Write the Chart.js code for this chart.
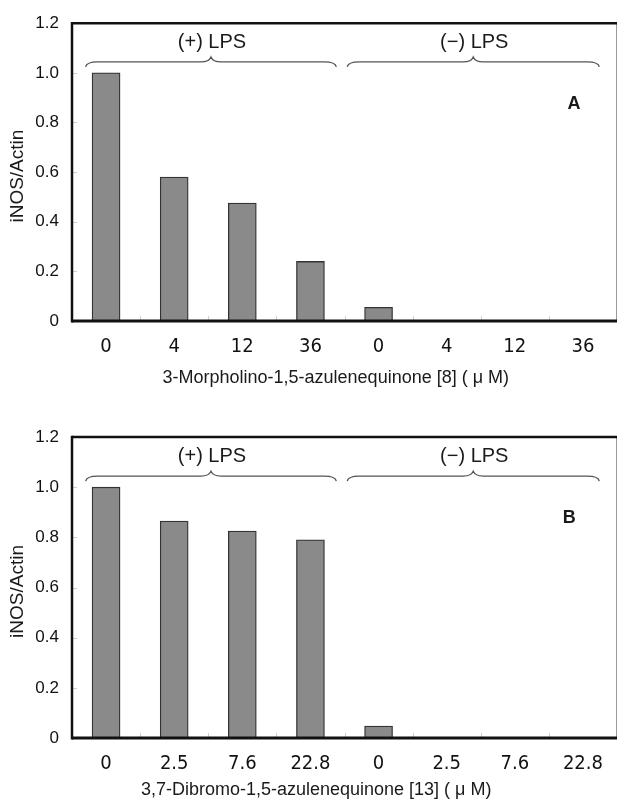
<!DOCTYPE html>
<html>
<head>
<meta charset="utf-8">
<script src="https://cdn.jsdelivr.net/npm/chart.js@4.4.1/dist/chart.umd.min.js"></script>
<style>
  html, body { margin: 0; padding: 0; background: #fff; }
  body { width: 618px; height: 799px; overflow: hidden; position: relative; }
  .panel { position: absolute; left: 0; width: 618px; }
</style>
</head>
<body>
<div class="panel" style="top:0;height:408px"><canvas id="chartA" width="618" height="408"></canvas></div>
<div class="panel" style="top:408px;height:391px"><canvas id="chartB" width="618" height="391"></canvas></div>
<script>
// values
const doseLabelsA = ["0", "4", "12", "36", "0", "4", "12", "36"];
const inosActinA = [1.0, 0.58, 0.475, 0.24, 0.055, 0, 0, 0];

const doseLabelsB = ["0", "2.5", "7.6", "22.8", "0", "2.5", "7.6", "22.8"];
const inosActinB = [1.0, 0.865, 0.825, 0.79, 0.048, 0, 0, 0];

const yTicks = [0, 0.2, 0.4, 0.6, 0.8, 1.0, 1.2];
const groupLabels = ["(+) LPS", "(\u2212) LPS"];
// brace spans in category-index units: [start, end]
const braceSpans = [[-0.3, 3.38], [3.54, 7.24]];

const SANS = "'Liberation Sans', Arial, sans-serif";
const NARROW = "'Liberation Sans Narrow', 'DejaVu Sans Condensed', 'Liberation Sans', Arial, sans-serif";

function line(ctx, x1, y1, x2, y2) {
  ctx.beginPath();
  ctx.moveTo(x1, y1);
  ctx.lineTo(x2, y2);
  ctx.stroke();
}

function brace(ctx, x1, x2, yh) {
  const xm = (x1 + x2) / 2;
  ctx.beginPath();
  ctx.moveTo(x1, yh + 5);
  ctx.quadraticCurveTo(x1 + 1, yh, x1 + 12, yh);
  ctx.lineTo(xm - 10, yh);
  ctx.quadraticCurveTo(xm - 2, yh, xm, yh - 5);
  ctx.quadraticCurveTo(xm + 2, yh, xm + 10, yh);
  ctx.lineTo(x2 - 12, yh);
  ctx.quadraticCurveTo(x2 - 1, yh, x2, yh + 5);
  ctx.stroke();
}

const panelDecor = {
  id: "panelDecor",
  afterDraw(chart, args, opts) {
    const { ctx, chartArea: a, scales: { x, y } } = chart;
    const n = chart.data.labels.length;
    ctx.save();

    // faint inner tick marks
    ctx.strokeStyle = "#cfcfcf";
    ctx.lineWidth = 1;
    yTicks.forEach(v => {
      const py = Math.round(y.getPixelForValue(v)) + 0.5;
      line(ctx, a.left, py, a.left + 5, py);
    });
    for (let i = 1; i < n; i++) {
      const px = Math.round(x.getPixelForValue(i - 0.5)) + 0.5;
      line(ctx, px, a.bottom, px, a.bottom - 5);
    }

    // frame
    ctx.strokeStyle = "#9a9a9a";
    ctx.lineWidth = 1;
    line(ctx, a.right - 0.5, a.top, a.right - 0.5, a.bottom);
    ctx.strokeStyle = "#111";
    ctx.lineWidth = 2.5;
    line(ctx, a.left, a.top, a.right, a.top);
    line(ctx, a.left, a.top - 1.25, a.left, a.bottom + 1.5);
    ctx.lineWidth = 3;
    line(ctx, a.left, a.bottom, a.right, a.bottom);

    // braces and group labels
    ctx.strokeStyle = "#555";
    ctx.lineWidth = 1.3;
    const yh = y.getPixelForValue(1.044);
    ctx.fillStyle = "#1a1a1a";
    ctx.font = "20px " + SANS;
    ctx.textAlign = "center";
    ctx.textBaseline = "middle";
    braceSpans.forEach((s, k) => {
      const x1 = x.getPixelForValue(s[0]);
      const x2 = x.getPixelForValue(s[1]);
      brace(ctx, x1, x2, yh);
      ctx.fillText(groupLabels[k], (x1 + x2) / 2 + 1, y.getPixelForValue(1.122));
    });

    // panel letter
    ctx.font = "bold 18px " + SANS;
    ctx.fillText(opts.letter, x.getPixelForValue(opts.letterX), y.getPixelForValue(0.876));

    // axis titles
    ctx.font = "18px " + SANS;
    ctx.fillText(opts.xTitle, a.left + (a.right - a.left) * opts.xTitlePos, a.bottom + opts.xTitleGap);
    ctx.save();
    ctx.translate(18, (a.top + a.bottom) / 2 + 4);
    ctx.rotate(-Math.PI / 2);
    ctx.font = "19px " + SANS;
    ctx.fillText("iNOS/Actin", 0, 0);
    ctx.restore();

    ctx.restore();
  }
};

function makeChart(id, labels, values, topPad, xHeight, decor) {
  return new Chart(document.getElementById(id), {
    type: "bar",
    data: {
      labels: labels,
      datasets: [{
        data: values,
        backgroundColor: "#8a8a8a",
        borderColor: "#333",
        borderWidth: 1.3,
        barThickness: 28
      }]
    },
    options: {
      responsive: false,
      animation: false,
      layout: { padding: { top: topPad, right: 1, left: 0, bottom: 0 } },
      plugins: {
        legend: { display: false },
        tooltip: { enabled: false },
        panelDecor: decor
      },
      scales: {
        x: {
          grid: { display: false, drawTicks: false },
          border: { display: false },
          ticks: { color: "#111", font: { family: NARROW, size: 20 }, padding: 14, maxRotation: 0 },
          afterFit: s => { s.height = xHeight; }
        },
        y: {
          min: 0,
          max: 1.2,
          afterBuildTicks: s => { s.ticks = yTicks.map(v => ({ value: v })); },
          grid: { display: false, drawTicks: false },
          border: { display: false },
          ticks: {
            color: "#111",
            font: { family: SANS, size: 17 },
            padding: 13,
            callback: v => (v === 0 ? "0" : v.toFixed(1))
          },
          afterFit: s => { s.width = 72; }
        }
      }
    },
    plugins: [panelDecor]
  });
}

makeChart("chartA", doseLabelsA, inosActinA, 22, 87, {
  letter: "A", letterX: 6.87,
  xTitle: "3-Morpholino-1,5-azulenequinone [8] ( \u03bc M)", xTitlePos: 0.484, xTitleGap: 57
});
makeChart("chartB", doseLabelsB, inosActinB, 29, 61, {
  letter: "B", letterX: 6.8,
  xTitle: "3,7-Dibromo-1,5-azulenequinone [13] ( \u03bc M)", xTitlePos: 0.448, xTitleGap: 52
});
</script>
</body>
</html>
